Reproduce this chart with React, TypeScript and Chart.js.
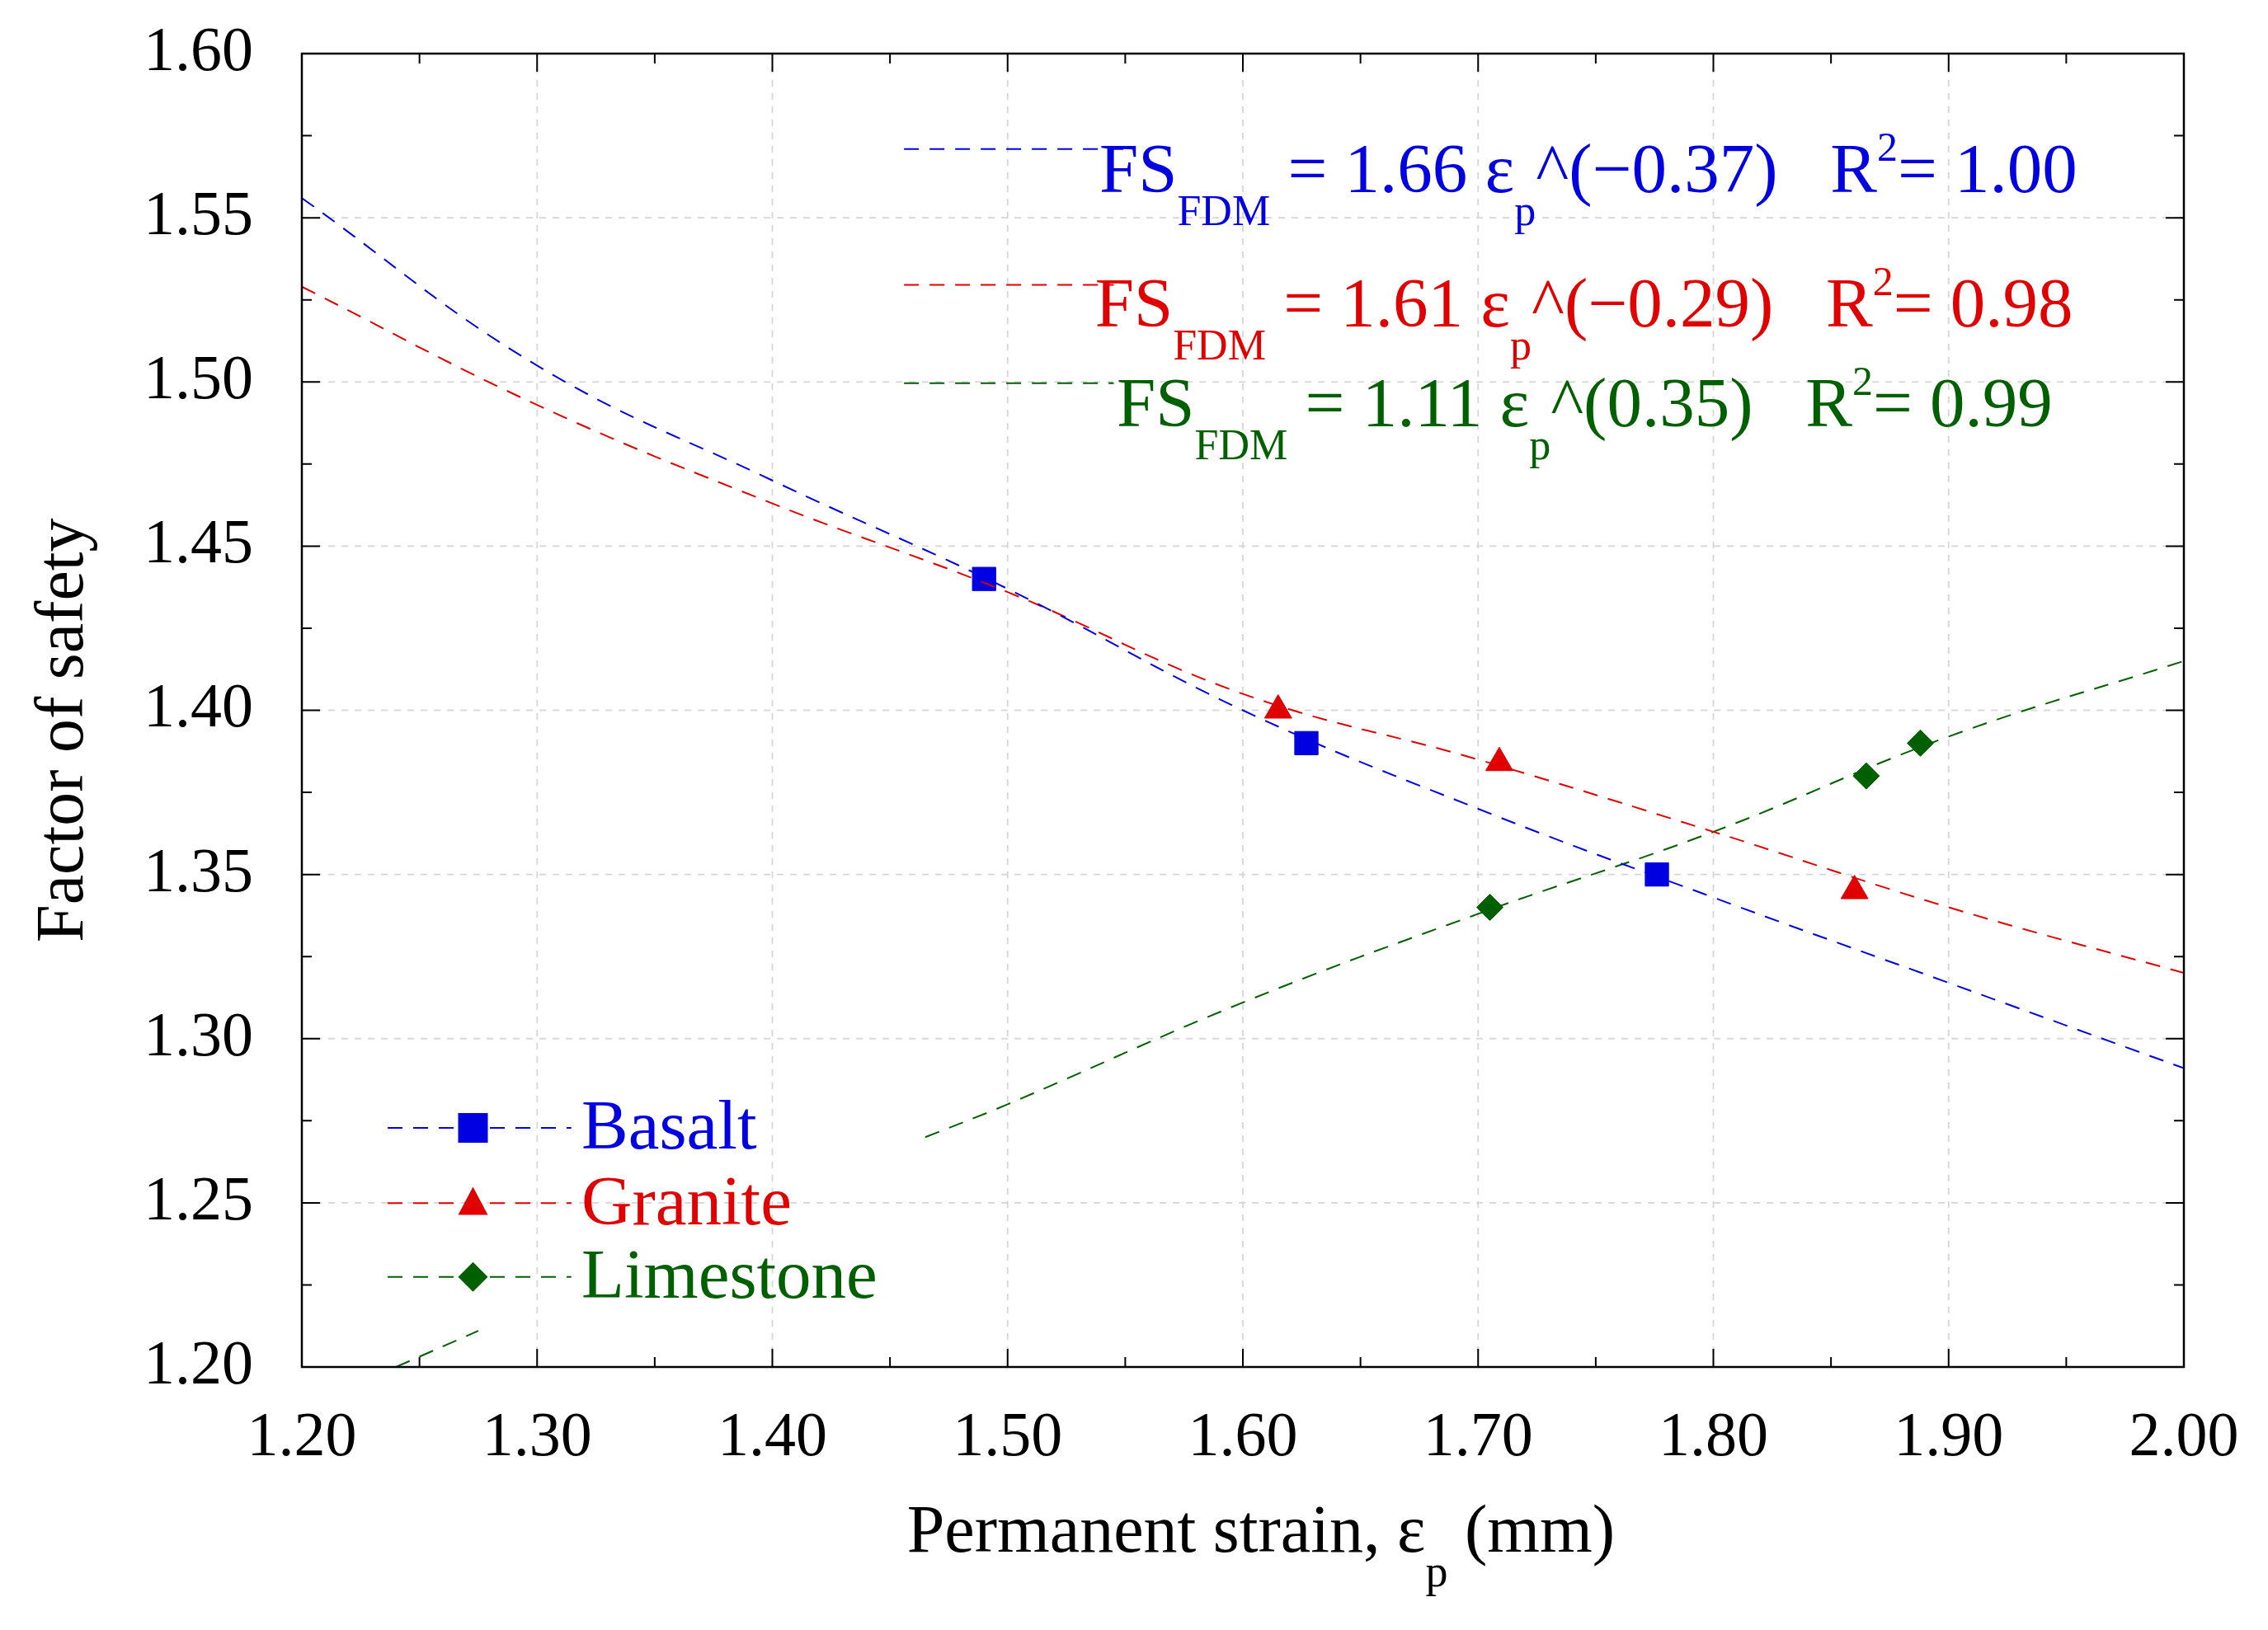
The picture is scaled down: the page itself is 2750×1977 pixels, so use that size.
import React, { useEffect, useRef } from "react";
import { Chart, registerables } from "chart.js";
Chart.register(...registerables);

const xTicks = ["1.20","1.30","1.40","1.50","1.60","1.70","1.80","1.90","2.00"];
const yTicks = ["1.20","1.25","1.30","1.35","1.40","1.45","1.50","1.55","1.60"];
const basaltX = [1.49, 1.627, 1.776];
const basaltY = [1.44, 1.39, 1.35];
const graniteX = [1.615, 1.709, 1.86];
const graniteY = [1.40, 1.384, 1.345];
const limeX = [1.705, 1.865, 1.888];
const limeY = [1.34, 1.38, 1.39];
const fitX = [1.2, 1.3, 1.4, 1.5, 1.6, 1.7, 1.8, 1.9, 2.0];
const basaltFit = [1.556, 1.505, 1.470, 1.437, 1.400, 1.370, 1.343, 1.317, 1.291];
const graniteFit = [1.529, 1.493, 1.463, 1.436, 1.405, 1.385, 1.363, 1.340, 1.320];
const limeFitX = [1.24, 1.275, 1.37, 1.465, 1.5, 1.6, 1.7, 1.8, 1.9, 2.0];
const limeFitY: (number | null)[] = [1.200, 1.211, null, 1.270, 1.280, 1.311, 1.338, 1.363, 1.392, 1.415];

const S = 2750 / 1568;
const BLUE = "#0000e0", RED = "#e00000", GREEN = "#006000";
const FONT = "'Liberation Serif', 'Times New Roman', serif";
const DASH = [18, 13];

const pts = (xs: number[], ys: (number | null)[]) => xs.map((x, i) => ({ x, y: ys[i] }));

export default function App() {
  const ref = useRef<HTMLCanvasElement>(null);
  useEffect(() => {
    const plugin = {
      id: "deco",
      beforeDatasetsDraw(c: any) {
        const ctx = c.ctx as CanvasRenderingContext2D;
        const xs = c.scales.x, ys = c.scales.y;
        const a = c.chartArea;
        ctx.save();
        ctx.strokeStyle = "#d6d6d6"; ctx.lineWidth = 1.8; ctx.setLineDash([8, 8]);
        xTicks.forEach(t => { const px = xs.getPixelForValue(+t); ctx.beginPath(); ctx.moveTo(px, a.top); ctx.lineTo(px, a.bottom); ctx.stroke(); });
        yTicks.forEach(t => { const py = ys.getPixelForValue(+t); ctx.beginPath(); ctx.moveTo(a.left, py); ctx.lineTo(a.right, py); ctx.stroke(); });
        ctx.restore();
      },
      afterDraw(c: any) {
        const ctx = c.ctx as CanvasRenderingContext2D;
        const xs = c.scales.x, ys = c.scales.y;
        const a = c.chartArea;
        ctx.save();
        ctx.strokeStyle = "#000"; ctx.lineWidth = 2.5;
        ctx.strokeRect(a.left, a.top, a.right - a.left, a.bottom - a.top);
        ctx.lineWidth = 2;
        for (let i = 0; i <= 16; i++) {
          const px = xs.getPixelForValue(1.2 + i * 0.05);
          const L = i % 2 === 0 ? 22 : 12;
          ctx.beginPath();
          ctx.moveTo(px, a.bottom); ctx.lineTo(px, a.bottom - L);
          ctx.moveTo(px, a.top); ctx.lineTo(px, a.top + L);
          ctx.stroke();
        }
        for (let i = 0; i <= 16; i++) {
          const py = ys.getPixelForValue(1.2 + i * 0.025);
          const L = i % 2 === 0 ? 22 : 12;
          ctx.beginPath();
          ctx.moveTo(a.left, py); ctx.lineTo(a.left + L, py);
          ctx.moveTo(a.right, py); ctx.lineTo(a.right - L, py);
          ctx.stroke();
        }
        ctx.fillStyle = "#000";
        ctx.font = `76px ${FONT}`;
        ctx.textAlign = "center"; ctx.textBaseline = "middle";
        xTicks.forEach(t => ctx.fillText(t, xs.getPixelForValue(+t), 995 * S));
        ctx.textAlign = "right";
        yTicks.forEach(t => ctx.fillText(t, 175 * S, ys.getPixelForValue(+t)));
        ctx.textAlign = "left"; ctx.textBaseline = "alphabetic";
        let x = 627 * S; const by = 1073 * S;
        const put = (s: string, size: number, dy: number) => {
          ctx.font = `${size}px ${FONT}`; ctx.fillText(s, x, by + dy); x += ctx.measureText(s).width;
        };
        put("Permanent strain, ε", 82, 0); put("p", 54, 42); put(" (mm)", 82, 0);
        ctx.save();
        ctx.translate(45 * S, 505 * S); ctx.rotate(-Math.PI / 2);
        ctx.font = `82px ${FONT}`; ctx.textAlign = "center"; ctx.textBaseline = "middle";
        ctx.fillText("Factor of safety", 0, 0);
        ctx.restore();
        const eq = (col: string, lx: number, ly: number, tx: number, ty: number, a1: string, pw: string, r: string) => {
          ctx.strokeStyle = col; ctx.lineWidth = 2; ctx.setLineDash(DASH);
          ctx.beginPath(); ctx.moveTo(625 * S, ly * S); ctx.lineTo(lx * S, ly * S); ctx.stroke();
          ctx.setLineDash([]);
          ctx.fillStyle = col; ctx.textAlign = "left"; ctx.textBaseline = "alphabetic";
          let X = tx * S; const Y = ty * S;
          const p = (s: string, size: number, dy: number) => {
            ctx.font = `${size}px ${FONT}`; ctx.fillText(s, X, Y + dy); X += ctx.measureText(s).width;
          };
          p("FS", 85, 0); p("FDM", 52, 40); p(" = " + a1 + " ε", 85, 0); p("p", 52, 40);
          p("^(" + pw + ")   R", 85, 0); p("2", 50, -38); p("= " + r, 85, 0);
        };
        eq(BLUE, 780, 103, 760, 133, "1.66", "−0.37", "1.00");
        eq(RED, 770, 197, 757, 226, "1.61", "−0.29", "0.98");
        eq(GREEN, 770, 265, 772, 295, "1.11", "0.35", "0.99");
        const leg = (col: string, y: number, label: string, shape: string) => {
          ctx.strokeStyle = col; ctx.lineWidth = 2; ctx.setLineDash(DASH);
          ctx.beginPath(); ctx.moveTo(268 * S, y * S); ctx.lineTo(395 * S, y * S); ctx.stroke();
          ctx.setLineDash([]);
          ctx.fillStyle = col;
          const cx = 327 * S, cy = y * S, r = 18;
          ctx.beginPath();
          if (shape === "sq") ctx.rect(cx - r, cy - r, 2 * r, 2 * r);
          else if (shape === "tri") { ctx.moveTo(cx, cy - r * 1.1); ctx.lineTo(cx + r, cy + r * 0.8); ctx.lineTo(cx - r, cy + r * 0.8); ctx.closePath(); }
          else { ctx.moveTo(cx, cy - r); ctx.lineTo(cx + r, cy); ctx.lineTo(cx, cy + r); ctx.lineTo(cx - r, cy); ctx.closePath(); }
          ctx.fill();
          ctx.font = `85px ${FONT}`; ctx.textAlign = "left"; ctx.textBaseline = "middle";
          ctx.fillText(label, 402 * S, y * S + 3);
        };
        leg(BLUE, 780, "Basalt", "sq");
        leg(RED, 832, "Granite", "tri");
        leg(GREEN, 883, "Limestone", "dia");
        ctx.restore();
      },
    };
    const fit = (data: any, col: string) => ({
      type: "line", data, borderColor: col, borderWidth: 2, borderDash: DASH,
      pointRadius: 0, tension: 0.4, spanGaps: false, fill: false,
    });
    const mk = (data: any, col: string, style: string, r: number) => ({
      type: "scatter", data, backgroundColor: col, borderColor: col, pointStyle: style, pointRadius: r, showLine: false,
    });
    const chart = new Chart(ref.current!, {
      type: "scatter",
      data: {
        datasets: [
          fit(pts(fitX, basaltFit), BLUE) as any,
          fit(pts(fitX, graniteFit), RED) as any,
          fit(pts(limeFitX, limeFitY), GREEN) as any,
          mk(pts(basaltX, basaltY), BLUE, "rect", 20) as any,
          mk(pts(graniteX, graniteY), RED, "triangle", 19) as any,
          mk(pts(limeX, limeY), GREEN, "rectRot", 16) as any,
        ],
      },
      options: {
        animation: false, responsive: false,
        layout: { padding: { left: 358, right: 102, top: 65, bottom: 311 } },
        plugins: { legend: { display: false }, tooltip: { enabled: false } },
        scales: {
          x: { type: "linear", min: 1.2, max: 2.0, ticks: { display: false }, grid: { display: false }, border: { display: false } },
          y: { type: "linear", min: 1.2, max: 1.6, ticks: { display: false }, grid: { display: false }, border: { display: false } },
        },
      },
      plugins: [plugin],
    } as any);
    return () => chart.destroy();
  }, []);
  return (
    <div style={{ position: "absolute", left: 0, top: 0, background: "#fff" }}>
      <canvas ref={ref} width={2750} height={1977} style={{ display: "block", width: 2750, height: 1977 }} />
    </div>
  );
}
